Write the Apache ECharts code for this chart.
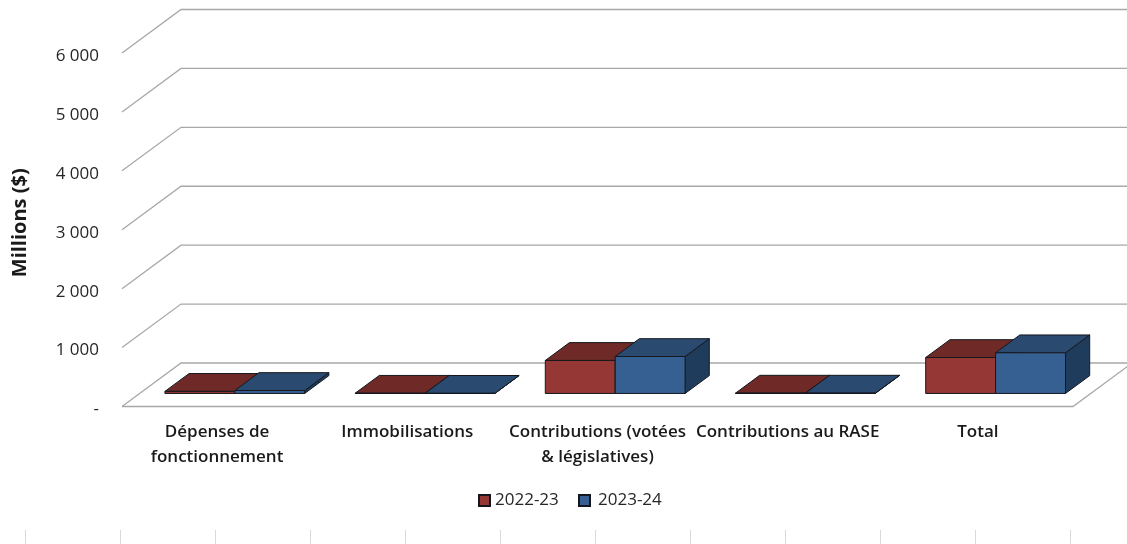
<!DOCTYPE html>
<html>
<head>
<meta charset="utf-8">
<style>html,body{margin:0;padding:0;background:#fff}#chart{width:1127px;height:544px}</style>
<script src="https://cdn.jsdelivr.net/npm/echarts@6/dist/echarts.min.js"></script>
</head>
<body>
<div id="chart"></div>
<script>
// Budget categories and spending by fiscal year, in millions of dollars
const categories = ['Dépenses de\nfonctionnement', 'Immobilisations', 'Contributions (votées\n& législatives)', 'Contributions au RASE', 'Total'];
const values2022 = [35, 3, 560, 5, 610];
const values2023 = [50, 2, 627, 5, 690];
const yTicks = [0, 1000, 2000, 3000, 4000, 5000, 6000];
const footerRules = [0, 1, 2, 3, 4, 5, 6, 7, 8, 9, 10, 11];

// Oblique projection of the chart box: how far the back wall sits from the front plane
const WALL_DX = 59, WALL_DY = 43.5;
// Bars occupy this fraction of the box depth
const BAR_NEAR = 0.3, BAR_FAR = 0.71;
const BAR_WIDTH_RATIO = 0.3675;
const EDGE = '#14181e';
const FONT = '"Open Sans", "Noto Sans", sans-serif';

function renderGrid(params, api) {
  const v = api.value(0);
  const cs = params.coordSys;
  const y = api.coord([0, v])[1];
  const x0 = cs.x, x1 = cs.x + cs.width;
  const style = { stroke: '#a8a8a8', lineWidth: 1.3, fill: null };
  const children = [{
    type: 'polyline',
    shape: { points: [[x0, y], [x0 + WALL_DX, y - WALL_DY], [x1 + WALL_DX, y - WALL_DY]] },
    style
  }];
  if (v === 0) {
    children.push({
      type: 'polyline',
      shape: { points: [[x0, y], [x1, y], [x1 + WALL_DX, y - WALL_DY]] },
      style
    });
  }
  return { type: 'group', children };
}

// Short vertical rules along the bottom edge of the page
function renderFooterRule(params, api) {
  const cs = params.coordSys;
  const x = Math.round(api.coord([api.value(0), 0])[0]) + 0.5;
  return {
    type: 'line',
    shape: { x1: x, y1: cs.y, x2: x, y2: cs.y + cs.height },
    style: { stroke: '#d9d9d9', lineWidth: 1 }
  };
}

function barRenderer(side, front, top, right) {
  return function (params, api) {
    const base = api.coord([api.value(0), 0]);
    const head = api.coord([api.value(0), api.value(1)]);
    const w = api.size([1, 0])[0] * BAR_WIDTH_RATIO;
    const xa = base[0] + (side < 0 ? -w : 0) + WALL_DX * BAR_NEAR;
    const xb = xa + w;
    const yb = base[1] - WALL_DY * BAR_NEAR;
    const yt = head[1] - WALL_DY * BAR_NEAR;
    const dx = WALL_DX * (BAR_FAR - BAR_NEAR);
    const dy = WALL_DY * (BAR_FAR - BAR_NEAR);
    const edge = { stroke: EDGE, lineWidth: 1, lineJoin: 'round' };
    return {
      type: 'group',
      children: [
        { type: 'polygon', shape: { points: [[xb, yb], [xb + dx, yb - dy], [xb + dx, yt - dy], [xb, yt]] }, style: { fill: right, ...edge } },
        { type: 'polygon', shape: { points: [[xa, yt], [xb, yt], [xb + dx, yt - dy], [xa + dx, yt - dy]] }, style: { fill: top, ...edge } },
        { type: 'polygon', shape: { points: [[xa, yb], [xb, yb], [xb, yt], [xa, yt]] }, style: { fill: front, ...edge } }
      ]
    };
  };
}

const chart = echarts.init(document.getElementById('chart'), null, { renderer: 'canvas' });
chart.setOption({
  animation: false,
  backgroundColor: '#fff',
  grid: [
    { left: 122, top: 53, width: 951, height: 353.5 },
    { left: 25, top: 530, width: 1045, height: 14 }
  ],
  xAxis: [
    {
      type: 'category',
      gridIndex: 0,
      data: categories,
      axisLine: { show: false },
      axisTick: { show: false },
      axisLabel: { interval: 0, margin: 13, color: '#1a1a1a', fontFamily: FONT, fontWeight: 600, fontSize: 17, lineHeight: 25 }
    },
    { type: 'value', gridIndex: 1, show: false, min: 0, max: 11, interval: 1 }
  ],
  yAxis: [
    {
      type: 'value',
      gridIndex: 0,
      min: 0,
      max: 6000,
      interval: 1000,
      name: 'Millions ($)',
      nameLocation: 'middle',
      nameGap: 92,
      nameRotate: 90,
      nameTextStyle: { color: '#1a1a1a', fontFamily: FONT, fontWeight: 700, fontSize: 20, padding: [0, 0, 0, 14] },
      axisLine: { show: false },
      axisTick: { show: false },
      splitLine: { show: false },
      axisLabel: {
        margin: 23,
        verticalAlign: 'top',
        lineHeight: 6,
        color: '#262626',
        fontFamily: FONT,
        fontSize: 17,
        formatter: v => v === 0 ? '-' : String(v).replace(/\B(?=(\d{3})+$)/g, ' ')
      }
    },
    { type: 'value', gridIndex: 1, show: false, min: 0, max: 1 }
  ],
  legend: [
    {
      data: ['2022-23'],
      left: 478,
      top: 492,
      padding: 0,
      itemWidth: 11,
      itemHeight: 11,
      icon: 'rect',
      textStyle: { color: '#262626', fontFamily: FONT, fontSize: 17 }
    },
    {
      data: ['2023-24'],
      left: 578,
      top: 492,
      padding: 0,
      itemWidth: 11,
      itemHeight: 11,
      icon: 'rect',
      textStyle: { color: '#262626', fontFamily: FONT, fontSize: 17, padding: [0, 0, 0, 3] }
    }
  ],
  series: [
    {
      type: 'custom',
      name: 'grid',
      silent: true,
      xAxisIndex: 0,
      yAxisIndex: 0,
      data: yTicks.map(v => [v]),
      encode: { y: 0 },
      renderItem: renderGrid,
      z: 1
    },
    {
      type: 'custom',
      name: 'footer',
      silent: true,
      xAxisIndex: 1,
      yAxisIndex: 1,
      data: footerRules.map(v => [v]),
      encode: { x: 0 },
      renderItem: renderFooterRule,
      z: 1
    },
    {
      type: 'custom',
      name: '2022-23',
      xAxisIndex: 0,
      yAxisIndex: 0,
      itemStyle: { color: '#953735', borderColor: EDGE, borderWidth: 1 },
      data: values2022.map((v, i) => [i, v]),
      encode: { x: 0, y: 1 },
      renderItem: barRenderer(-1, '#953735', '#6f2a28', '#5e2321'),
      z: 2
    },
    {
      type: 'custom',
      name: '2023-24',
      xAxisIndex: 0,
      yAxisIndex: 0,
      itemStyle: { color: '#376092', borderColor: EDGE, borderWidth: 1 },
      data: values2023.map((v, i) => [i, v]),
      encode: { x: 0, y: 1 },
      renderItem: barRenderer(1, '#376092', '#2b4a70', '#203c5c'),
      z: 3
    }
  ]
});
</script>
</body>
</html>
